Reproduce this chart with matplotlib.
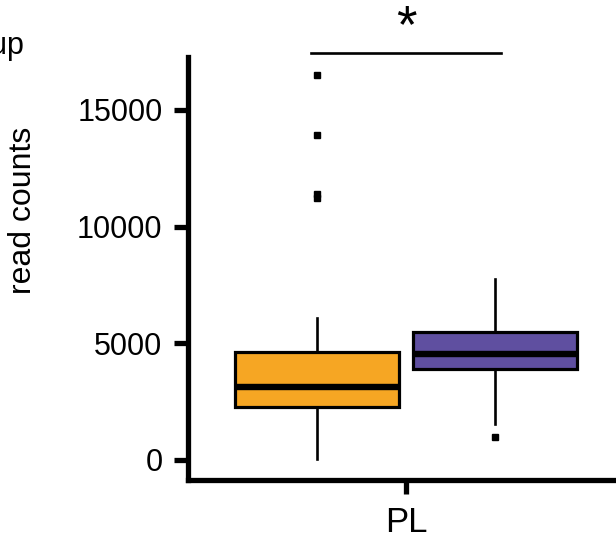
# boxplot_pl.py

import matplotlib
matplotlib.use('Agg')
import matplotlib.pyplot as plt

plt.rcParams['font.family'] = ['Liberation Sans', 'DejaVu Sans']

# Resumen de cada grupo (cuartiles, bigotes y atipicos) en la region PL
grupos = ['A', 'B']
colores = ['#F6A623', '#5F4FA0']
q1 = [2280, 3890]
mediana = [3140, 4530]
q3 = [4610, 5500]
bigote_inf = [30, 1540]
bigote_sup = [6075, 7755]
atipicos = [[16480, 13920, 11400, 11230], [1000]]
posiciones = [-0.245, 0.245]
categoria = 'PL'
ticks_y = [0, 5000, 10000, 15000]
signif_y = 17440
signif_txt = '*'

#%%
fig = plt.figure(figsize=(6.16, 5.4), dpi=100)
W, H = 616, 540
ax = fig.add_axes([187.5 / W, 60 / H, (624.5 - 187.5) / W, (480 - 57) / H])

stats = []
for i in range(len(grupos)):
    stats.append(dict(q1=q1[i], med=mediana[i], q3=q3[i],
                      whislo=bigote_inf[i], whishi=bigote_sup[i],
                      fliers=atipicos[i], label=grupos[i]))

cajas = ax.bxp(stats, positions=posiciones, widths=0.45, patch_artist=True,
               showcaps=False,
               boxprops=dict(linewidth=2.3, edgecolor='black'),
               medianprops=dict(linewidth=4.6, color='black', solid_capstyle='butt'),
               whiskerprops=dict(linewidth=1.9, color='black'),
               flierprops=dict(marker='s', markersize=5, markerfacecolor='black',
                               markeredgecolor='black'))
for caja, c in zip(cajas['boxes'], colores):
    caja.set_facecolor(c)

# linea de significancia entre ambos grupos
ax.plot([-0.26, 0.26], [signif_y, signif_y], color='black', lw=1.9, clip_on=False)
ax.text(0, signif_y + 450, signif_txt, ha='center', va='baseline', fontsize=38,
        clip_on=False)

ax.set_xlim(-0.6, 0.6)
ax.set_ylim(-857, 17266)
ax.set_xticks([0])
ax.set_xticklabels([categoria], fontsize=25)
ax.set_yticks(ticks_y)
ax.set_yticklabels([str(t) for t in ticks_y], fontsize=22)
ax.tick_params(axis='both', width=3.8, length=10, color='black')
ax.tick_params(axis='y', pad=8)
ax.tick_params(axis='x', pad=9)

for lado in ['top', 'right']:
    ax.spines[lado].set_visible(False)
for lado in ['left', 'bottom']:
    ax.spines[lado].set_linewidth(3.8)
    ax.spines[lado].set_capstyle('projecting')

ax.set_ylabel('read counts', fontsize=23)
ax.yaxis.set_label_coords(-0.343, 0.638)

# titulo de la leyenda
fig.text(25 / W, 1 - 54 / H, 'group', ha='right', va='baseline', fontsize=22)

fig.savefig('out.png', dpi=100)
